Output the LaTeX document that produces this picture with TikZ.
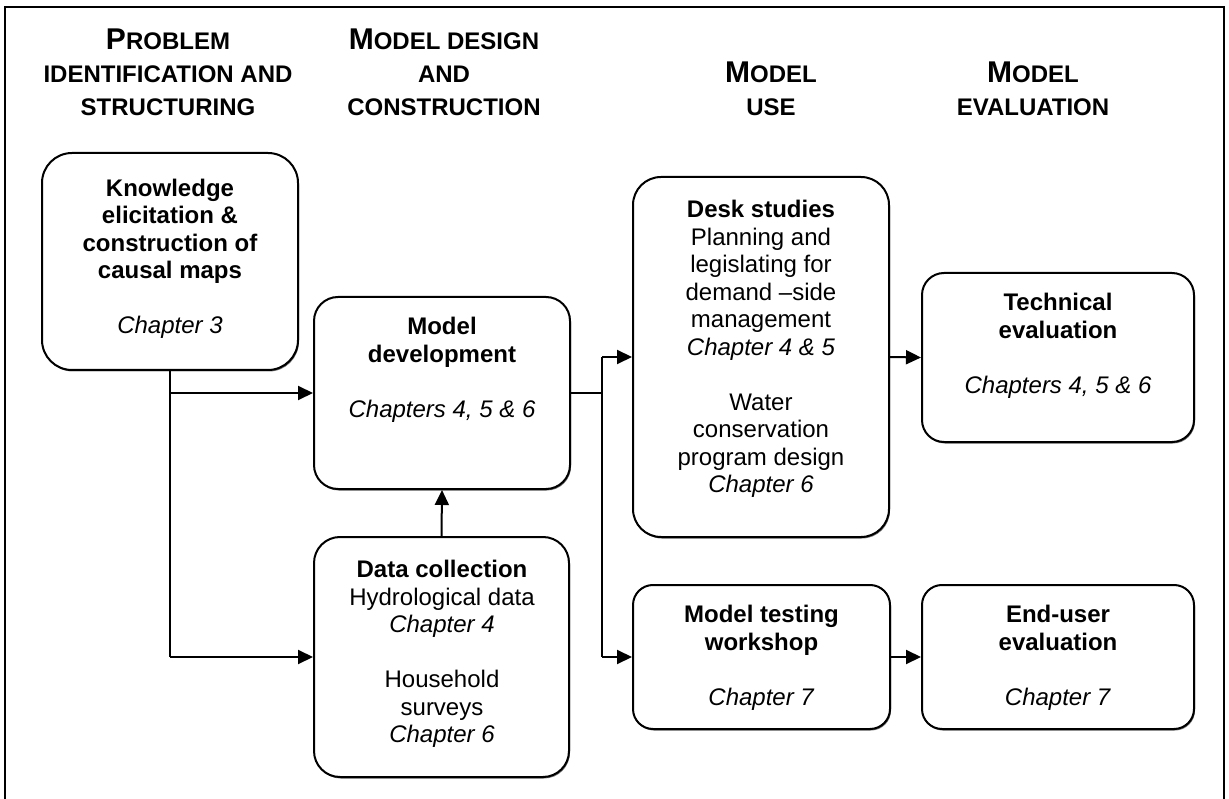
\documentclass[tikz,border=0pt]{standalone}
\usepackage{fontspec}
\setmainfont{Liberation Sans}
\usetikzlibrary{arrows.meta,shadows}
\newcommand\firstcap[1]{{\fontsize{30}{33}\selectfont #1}}
\begin{document}
\begin{tikzpicture}[x=1pt,y=-1pt,
  box/.style={draw, line width=2pt, fill=white,
    drop shadow={shadow xshift=1pt, shadow yshift=-1.5pt, fill=black!55, opacity=1}},
  txt/.style={align=center, inner sep=0pt, font=\fontsize{24}{27.5}\selectfont},
  head/.style={align=center, inner sep=0pt, font=\fontsize{24}{33}\selectfont\bfseries},
  arr/.style={line width=2pt, -{Triangle[length=15pt,width=14pt]}},
  ln/.style={line width=2pt}
]
\useasboundingbox (0,0) rectangle (1229,799);
% frame
\draw[line width=2pt] (5,805) -- (5,7) -- (1224,7) -- (1224,805);

% headers
\node[head] (h1) at (168,72) {\firstcap{P}ROBLEM\\IDENTIFICATION AND\\STRUCTURING};
\node[head] (h2) at (444,72) {\firstcap{M}ODEL DESIGN\\AND\\CONSTRUCTION};
\node[head] (h3) at (771,88.5) {\firstcap{M}ODEL\\USE};
\node[head] (h4) at (1033,88.5) {\firstcap{M}ODEL\\EVALUATION};

% boxes
\node[box, rounded corners=30pt, minimum width=256pt, minimum height=217pt] (K) at (170,261.5) {};
\node[box, rounded corners=24pt, minimum width=256pt, minimum height=192pt] (MD) at (442,393) {};
\node[box, rounded corners=26pt, minimum width=255pt, minimum height=240pt] (DC) at (441.5,657) {};
\node[box, rounded corners=28pt, minimum width=256pt, minimum height=360pt] (DS) at (761,357) {};
\node[box, rounded corners=22pt, minimum width=272pt, minimum height=169pt] (TE) at (1058,357.5) {};
\node[box, rounded corners=20pt, minimum width=257pt, minimum height=144pt] (MT) at (761.5,657) {};
\node[box, rounded corners=20pt, minimum width=272pt, minimum height=144pt] (EU) at (1058,657) {};

% texts
\node[txt] (Kt) at (170,259) {\textbf{Knowledge}\\\textbf{elicitation \&}\\\textbf{construction of}\\\textbf{causal maps}\\[27.5pt]\textit{Chapter 3}};
\node[txt] (MDt) at (442,370) {\textbf{Model}\\\textbf{development}\\[27.5pt]\textit{Chapters 4, 5 \& 6}};
\node[txt] (DCt) at (442,654) {\textbf{Data collection}\\Hydrological data\\\textit{Chapter 4}\\[27.5pt]Household\\surveys\\\textit{Chapter 6}};
\node[txt] (DSt) at (761,349) {\textbf{Desk studies}\\Planning and\\legislating for\\demand –side\\management\\\textit{Chapter 4 \& 5}\\[27.5pt]Water\\conservation\\program design\\\textit{Chapter 6}};
\node[txt] (TEt) at (1058,346) {\textbf{Technical}\\\textbf{evaluation}\\[27.5pt]\textit{Chapters 4, 5 \& 6}};
\node[txt] (MTt) at (761.5,658) {\textbf{Model testing}\\\textbf{workshop}\\[27.5pt]\textit{Chapter 7}};
\node[txt] (EUt) at (1058,658) {\textbf{End-user}\\\textbf{evaluation}\\[27.5pt]\textit{Chapter 7}};

% connector junctions
\coordinate (kb) at (K.south);
\coordinate (k1) at (kb |- MD.west);
\coordinate (k2) at (kb |- DC.west);
\coordinate (m1) at (602,393);
\coordinate (m2) at (m1 |- DS.west);
\coordinate (m3) at (m1 |- MT.west);

\draw[ln] (K.south) -- (k2);
\draw[arr] (k1) -- (MD.west);
\draw[arr] (k2) -- (DC.west);
\draw[arr] (DC.north) -- (MD.south);
\draw[ln] (MD.east) -- (m1);
\draw[ln] (m2) -- (m3);
\draw[arr] (m2) -- (DS.west);
\draw[arr] (m3) -- (MT.west);
\draw[arr] (DS.east) -- (TE.west);
\draw[arr] (MT.east) -- (EU.west);
\end{tikzpicture}
\end{document}
